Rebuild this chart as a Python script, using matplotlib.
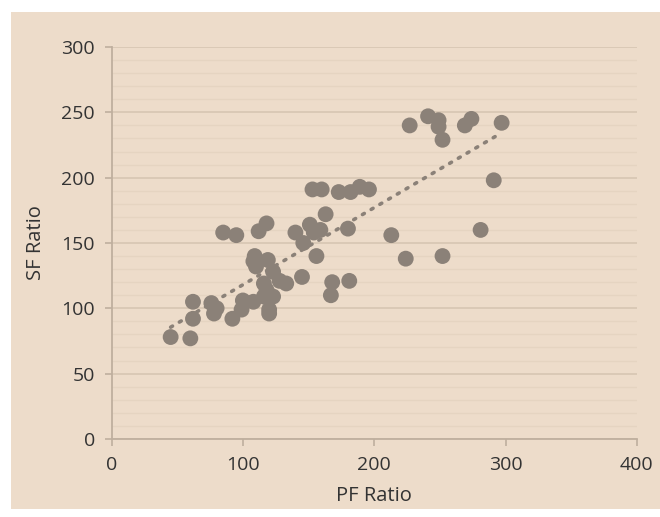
import matplotlib.pyplot as plt
import matplotlib.patches as patches
import numpy as np

# PF ratio vs SF ratio
pf_ratio = [45, 60, 62, 62, 76, 80, 78, 85, 95, 92,
            100, 99, 108, 112, 118, 108, 109, 119, 123, 116,
            118, 116, 123, 120, 120, 110, 133, 145, 140, 151,
            154, 159, 146, 156, 153, 160, 173, 182, 189, 196,
            163, 168, 167, 180, 181, 213, 224, 227, 241, 249,
            249, 252, 252, 269, 274, 281, 291, 297, 128]
sf_ratio = [78, 77, 92, 105, 104, 100, 96, 158, 156, 92,
            106, 99, 105, 159, 165, 136, 140, 137, 128, 119,
            114, 109, 109, 96, 99, 132, 119, 124, 158, 164,
            158, 160, 150, 140, 191, 191, 189, 189, 193, 191,
            172, 120, 110, 161, 121, 156, 138, 240, 247, 244,
            239, 229, 140, 240, 245, 160, 198, 242, 121]

x_ticks = [0, 100, 200, 300, 400]
y_ticks = [0, 50, 100, 150, 200, 250, 300]

beige = '#EDDCCA'
dot = '#8B8178'
grid_major = '#D8C7B4'
grid_minor = '#E5D4C1'
axis_col = '#BFAF9E'
text_col = '#333333'

fig = plt.figure(figsize=(6.6, 5.17), dpi=100)
fig.patch.set_facecolor('white')
# fond beige du graphique
fig.patches.append(patches.Rectangle((11 / 660, 1 - 509 / 517), 649 / 660, 497 / 517,
                                     transform=fig.transFigure, facecolor=beige,
                                     edgecolor='none', zorder=-10))

ax = fig.add_axes([0.169, 0.151, 0.796, 0.758])
ax.patch.set_alpha(0)

ax.scatter(pf_ratio, sf_ratio, s=130, color=dot, edgecolors='none', zorder=3)

# droite de tendance linéaire
a, b = np.polyfit(pf_ratio, sf_ratio, 1)
xt = np.array([min(pf_ratio), max(pf_ratio)])
ax.plot(xt, a * xt + b, color=dot, linestyle=(0, (0.6, 2.2)), linewidth=2.6,
        dash_capstyle='round', zorder=4)

ax.set_xlim(0, 400)
ax.set_ylim(0, 300)
ax.set_xticks(x_ticks)
ax.set_yticks(y_ticks)
ax.set_yticks(np.arange(0, 301, 10), minor=True)

ax.grid(which='major', axis='y', color=grid_major, linewidth=1.3, zorder=1)
ax.grid(which='minor', axis='y', color=grid_minor, linewidth=1.0, zorder=1)
ax.set_axisbelow(True)

for s in ['top', 'right']:
    ax.spines[s].set_visible(False)
for s in ['left', 'bottom']:
    ax.spines[s].set_color(axis_col)
    ax.spines[s].set_linewidth(1.3)

ax.tick_params(which='major', direction='out', length=5, width=1.2, color=axis_col,
               labelcolor=text_col, labelsize=14, pad=7)
ax.tick_params(which='minor', length=0)
for lab in ax.get_xticklabels() + ax.get_yticklabels():
    lab.set_fontfamily('Open Sans')

ax.set_xlabel('PF Ratio', fontsize=14.5, color=text_col, fontfamily='Open Sans', labelpad=9)
ax.set_ylabel('SF Ratio', fontsize=14.5, color=text_col, fontfamily='Open Sans', labelpad=11)

plt.savefig('out.png', dpi=100)
